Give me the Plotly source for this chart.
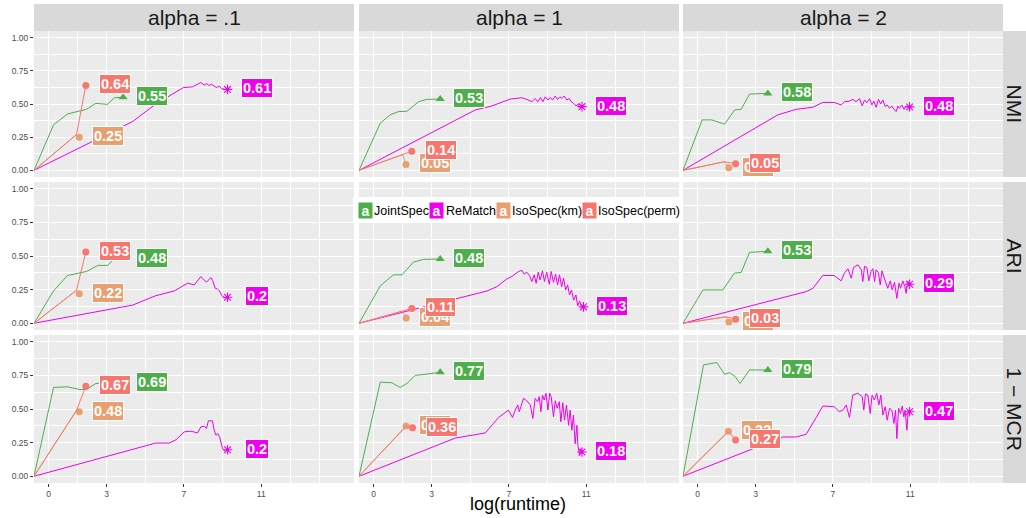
import plotly.graph_objects as go

W, H = 1026, 518

# ---------------- data ----------------
methods = ["JointSpec", "ReMatch", "IsoSpec(km)", "IsoSpec(perm)"]
colors = ["#4DAF4A", "#EE00EE", "#E8A070", "#F8766D"]
col_titles = ["alpha = .1", "alpha = 1", "alpha = 2"]
row_titles = ["NMI", "ARI", "1 \u2212 MCR"]
x_title = "log(runtime)"
x_tick_vals = [0, 3, 7, 11]
x_tick_text = ["0", "3", "7", "11"]
x_minor_vals = [1.5, 5, 9, 12.5, 14]
y_tick_vals = [0, 0.25, 0.5, 0.75, 1.0]
y_tick_text = ["0.00", "0.25", "0.50", "0.75", "1.00"]
y_minor_vals = [0.125, 0.375, 0.625, 0.875]

# --- NMI, alpha = .1
p11_joint_x = [-0.75, 0.26, 0.98, 1.97, 2.45, 3.05, 3.4, 3.86]
p11_joint_y = [0, 0.343, 0.425, 0.46, 0.505, 0.497, 0.547, 0.55]
p11_remat_x = [-0.75, 4.35, 5.55, 6.98, 7.45, 7.88, 8.05, 8.18, 8.31, 8.43, 8.57, 8.69, 8.83, 8.95, 9.09, 9.26]
p11_remat_y = [0, 0.368, 0.50, 0.624, 0.629, 0.662, 0.642, 0.654, 0.639, 0.649, 0.634, 0.624, 0.634, 0.617, 0.61, 0.61]
p11_km_x = [-0.75, 1.45, 1.59]
p11_km_y = [0, 0.27, 0.25]
p11_perm_x = [-0.75, 1.45, 1.93]
p11_perm_y = [0, 0.27, 0.64]
p11_labels = ["0.55", "0.61", "0.25", "0.64"]

# --- ARI, alpha = .1
p21_joint_x = [-0.75, 0.26, 0.98, 1.97, 2.55, 3.05, 3.4, 3.86]
p21_joint_y = [0, 0.24, 0.355, 0.385, 0.43, 0.43, 0.478, 0.48]
p21_remat_x = [-0.75, 4.35, 5.55, 6.5, 7.2, 7.54, 7.88, 8.05, 8.17, 8.4, 8.48, 8.62, 8.74, 8.83, 8.97, 9.09, 9.26]
p21_remat_y = [0, 0.135, 0.205, 0.24, 0.298, 0.285, 0.347, 0.322, 0.305, 0.34, 0.32, 0.26, 0.255, 0.242, 0.205, 0.19, 0.193]
p21_km_x = [-0.75, 1.45, 1.59]
p21_km_y = [0, 0.245, 0.22]
p21_perm_x = [-0.75, 1.45, 1.93]
p21_perm_y = [0, 0.245, 0.53]
p21_labels = ["0.48", "0.2", "0.22", "0.53"]

# --- 1 - MCR, alpha = .1
p31_joint_x = [-0.75, 0.26, 0.98, 1.6, 1.97, 2.45, 3.86]
p31_joint_y = [0, 0.66, 0.665, 0.645, 0.645, 0.69, 0.69]
p31_remat_x = [-0.75, 5.55, 6.25, 6.6, 7.02, 7.36, 7.71, 7.88, 8.05, 8.17, 8.27, 8.48, 8.57, 8.66, 8.76, 8.86, 9.0, 9.14, 9.26]
p31_remat_y = [0, 0.247, 0.247, 0.272, 0.33, 0.335, 0.322, 0.367, 0.372, 0.355, 0.412, 0.412, 0.342, 0.305, 0.317, 0.287, 0.205, 0.187, 0.197]
p31_km_x = [-0.75, 1.45, 1.59]
p31_km_y = [0, 0.49, 0.48]
p31_perm_x = [-0.75, 1.45, 1.93]
p31_perm_y = [0, 0.49, 0.67]
p31_labels = ["0.69", "0.2", "0.48", "0.67"]

# --- NMI, alpha = 1
p12_joint_x = [-0.75, 0.35, 0.86, 1.3, 1.73, 2.33, 2.76, 3.45]
p12_joint_y = [0, 0.356, 0.418, 0.443, 0.445, 0.517, 0.535, 0.537]
p12_remat_x = [-0.75, 5.26, 6.12, 7.07, 7.67, 7.93, 8.19, 8.36, 8.5, 8.64, 8.76, 8.88, 9.02, 9.14, 9.26, 9.4, 9.52,
               9.64, 9.74, 9.86, 10.0, 10.12, 10.23, 10.35, 10.47, 10.57, 10.68, 10.78]
p12_remat_y = [0, 0.455, 0.485, 0.537, 0.547, 0.535, 0.517, 0.542, 0.517, 0.549, 0.517, 0.554, 0.53, 0.549, 0.53, 0.56, 0.534,
               0.554, 0.542, 0.56, 0.53, 0.542, 0.517, 0.505, 0.485, 0.5, 0.475, 0.48]
p12_km_x = [-0.75, 1.5, 1.68]
p12_km_y = [0, 0.12, 0.045]
p12_perm_x = [-0.75, 1.5, 1.98]
p12_perm_y = [0, 0.12, 0.144]
p12_labels = ["0.53", "0.48", "0.05", "0.14"]

# --- ARI, alpha = 1
p22_joint_x = [-0.75, 0.35, 1.03, 1.47, 2.07, 2.59, 3.45]
p22_joint_y = [0, 0.278, 0.36, 0.36, 0.455, 0.475, 0.478]
p22_remat_x = [-0.75, 5.87, 6.38, 6.9, 7.16, 7.33, 7.5, 7.68, 7.79, 7.93, 8.07, 8.19, 8.31, 8.41, 8.52, 8.62, 8.74, 8.84,
               8.96, 9.09, 9.19, 9.31, 9.42, 9.52, 9.62, 9.73, 9.83, 9.94, 10.04, 10.14, 10.24, 10.35, 10.47, 10.56,
               10.66, 10.76, 10.86]
p22_remat_y = [0, 0.24, 0.272, 0.33, 0.348, 0.365, 0.385, 0.393, 0.365, 0.38, 0.355, 0.31, 0.36, 0.297, 0.38, 0.322, 0.39,
               0.31, 0.38, 0.29, 0.385, 0.305, 0.365, 0.285, 0.36, 0.272, 0.335, 0.247, 0.285, 0.21, 0.247, 0.172, 0.21,
               0.13, 0.165, 0.122, 0.122]
p22_km_x = [-0.75, 1.5, 1.69]
p22_km_y = [0, 0.09, 0.04]
p22_perm_x = [-0.75, 1.5, 1.98]
p22_perm_y = [0, 0.09, 0.11]
p22_labels = ["0.48", "0.13", "0.04", "0.11"]

# --- 1 - MCR, alpha = 1
p32_joint_x = [-0.75, 0.35, 0.95, 1.38, 1.73, 2.16, 2.68, 3.45]
p32_joint_y = [0, 0.70, 0.695, 0.66, 0.69, 0.75, 0.758, 0.773]
p32_remat_x = [-0.75, 4.23, 5.78, 6.47, 6.98, 7.19, 7.33, 7.46, 7.54, 7.76, 7.93, 8.11, 8.24, 8.36, 8.49, 8.57, 8.66,
               8.74, 8.83, 8.92, 9.02, 9.11, 9.19, 9.31, 9.4, 9.5, 9.61, 9.69, 9.79, 9.88, 9.98, 10.09, 10.17, 10.26,
               10.34, 10.43, 10.52, 10.57, 10.66, 10.73, 10.78]
p32_remat_y = [0, 0.284, 0.322, 0.437, 0.492, 0.437, 0.492, 0.53, 0.48, 0.579, 0.561, 0.53, 0.43, 0.579, 0.554, 0.592,
               0.48, 0.604, 0.567, 0.617, 0.492, 0.617, 0.592, 0.442, 0.561, 0.505, 0.554, 0.404, 0.547, 0.417, 0.53,
               0.379, 0.492, 0.342, 0.455, 0.242, 0.379, 0.23, 0.155, 0.205, 0.18]
p32_km_x = [-0.75, 1.68]
p32_km_y = [0, 0.374]
p32_perm_x = [-0.75, 1.68, 2.02]
p32_perm_y = [0, 0.37, 0.36]
p32_labels = ["0.77", "0.18", "0.37", "0.36"]

# --- NMI, alpha = 2
p13_joint_x = [-0.75, 0.24, 0.74, 1.4, 1.92, 2.26, 2.69, 3.64]
p13_joint_y = [0, 0.38, 0.38, 0.348, 0.455, 0.46, 0.575, 0.58]
p13_remat_x = [-0.75, 4.15, 5.1, 5.96, 6.48, 7.07, 7.43, 7.6, 7.86, 8.03, 8.2, 8.38, 8.52, 8.64, 8.76, 8.9, 9.02, 9.12,
               9.24, 9.36, 9.47, 9.59, 9.71, 9.81, 9.93, 10.05, 10.16, 10.28, 10.36, 10.45, 10.57, 10.68, 10.79, 10.97]
p13_remat_y = [0, 0.418, 0.46, 0.475, 0.512, 0.512, 0.493, 0.517, 0.522, 0.535, 0.517, 0.54, 0.485, 0.53, 0.51, 0.54,
               0.493, 0.522, 0.475, 0.535, 0.5, 0.53, 0.48, 0.493, 0.468, 0.485, 0.46, 0.443, 0.485, 0.468, 0.493, 0.46,
               0.485, 0.478]
p13_km_x = [-0.75, 1.4, 1.62]
p13_km_y = [0, 0.065, 0.02]
p13_perm_x = [-0.75, 1.4, 1.97]
p13_perm_y = [0, 0.065, 0.05]
p13_labels = ["0.58", "0.48", "0.02", "0.05"]

# --- ARI, alpha = 2
p23_joint_x = [-0.75, 0.28, 1.31, 1.91, 2.26, 2.69, 3.64]
p23_joint_y = [0, 0.248, 0.248, 0.373, 0.378, 0.527, 0.535]
p23_remat_x = [-0.75, 5.62, 5.97, 6.48, 7.07, 7.43, 7.6, 7.78, 7.95, 8.07, 8.3, 8.47, 8.55, 8.64, 8.76, 8.86, 8.97, 9.07,
               9.16, 9.24, 9.36, 9.45, 9.54, 9.64, 9.72, 9.84, 9.97, 10.07, 10.19, 10.31, 10.42, 10.5, 10.62, 10.72,
               10.79, 10.86, 10.97]
p23_remat_y = [0, 0.235, 0.26, 0.355, 0.355, 0.315, 0.373, 0.405, 0.335, 0.415, 0.435, 0.398, 0.31, 0.423, 0.415, 0.315,
               0.385, 0.405, 0.31, 0.398, 0.373, 0.285, 0.39, 0.335, 0.31, 0.26, 0.315, 0.248, 0.305, 0.185, 0.298, 0.26,
               0.315, 0.272, 0.222, 0.315, 0.29]
p23_km_x = [-0.75, 1.48, 1.62]
p23_km_y = [0, 0.048, 0.01]
p23_perm_x = [-0.75, 1.48, 1.97]
p23_perm_y = [0, 0.048, 0.03]
p23_labels = ["0.53", "0.29", "0.01", "0.03"]

# --- 1 - MCR, alpha = 2
p33_joint_x = [-0.75, 0.31, 1.0, 1.4, 1.66, 1.95, 2.2, 2.69, 3.64]
p33_joint_y = [0, 0.828, 0.845, 0.758, 0.77, 0.74, 0.69, 0.79, 0.79]
p33_remat_x = [-0.75, 4.41, 5.1, 5.62, 6.14, 6.48, 7.07, 7.34, 7.52, 7.69, 7.86, 8.03, 8.29, 8.52, 8.6, 8.69, 8.81, 8.93,
               9.03, 9.15, 9.27, 9.38, 9.48, 9.59, 9.71, 9.81, 9.93, 10.05, 10.16, 10.24, 10.31, 10.4, 10.5, 10.59,
               10.67, 10.74, 10.83, 10.9, 10.97]
p33_remat_y = [0, 0.292, 0.292, 0.312, 0.437, 0.522, 0.517, 0.48, 0.492, 0.53, 0.437, 0.604, 0.617, 0.592, 0.492, 0.612,
               0.604, 0.467, 0.604, 0.567, 0.617, 0.53, 0.604, 0.455, 0.517, 0.417, 0.505, 0.492, 0.392, 0.492, 0.28,
               0.505, 0.467, 0.522, 0.442, 0.492, 0.342, 0.492, 0.48]
p33_km_x = [-0.75, 1.6]
p33_km_y = [0, 0.334]
p33_perm_x = [-0.75, 1.6, 1.97]
p33_perm_y = [0, 0.334, 0.27]
p33_labels = ["0.79", "0.47", "0.33", "0.27"]

label_nudge_x = 1.5

panels = {
    (0, 0): ([p11_joint_x, p11_remat_x, p11_km_x, p11_perm_x], [p11_joint_y, p11_remat_y, p11_km_y, p11_perm_y], p11_labels),
    (1, 0): ([p21_joint_x, p21_remat_x, p21_km_x, p21_perm_x], [p21_joint_y, p21_remat_y, p21_km_y, p21_perm_y], p21_labels),
    (2, 0): ([p31_joint_x, p31_remat_x, p31_km_x, p31_perm_x], [p31_joint_y, p31_remat_y, p31_km_y, p31_perm_y], p31_labels),
    (0, 1): ([p12_joint_x, p12_remat_x, p12_km_x, p12_perm_x], [p12_joint_y, p12_remat_y, p12_km_y, p12_perm_y], p12_labels),
    (1, 1): ([p22_joint_x, p22_remat_x, p22_km_x, p22_perm_x], [p22_joint_y, p22_remat_y, p22_km_y, p22_perm_y], p22_labels),
    (2, 1): ([p32_joint_x, p32_remat_x, p32_km_x, p32_perm_x], [p32_joint_y, p32_remat_y, p32_km_y, p32_perm_y], p32_labels),
    (0, 2): ([p13_joint_x, p13_remat_x, p13_km_x, p13_perm_x], [p13_joint_y, p13_remat_y, p13_km_y, p13_perm_y], p13_labels),
    (1, 2): ([p23_joint_x, p23_remat_x, p23_km_x, p23_perm_x], [p23_joint_y, p23_remat_y, p23_km_y, p23_perm_y], p23_labels),
    (2, 2): ([p33_joint_x, p33_remat_x, p33_km_x, p33_perm_x], [p33_joint_y, p33_remat_y, p33_km_y, p33_perm_y], p33_labels),
}

# ---------------- layout geometry (pixels) ----------------
col_px = [(34, 354), (359, 679), (683, 1003)]
row_px = [(31, 177), (182, 330), (335, 483)]
X_RANGE = [-0.75, 15.8]
Y_RANGE = [-0.05, 1.05]
FONT = "Liberation Sans, Arial, sans-serif"


def px_x(p):
    return p / W


def px_y(p):
    return 1 - p / H


marker_symbols = ["triangle-up", "asterisk-open", "circle", "circle"]
marker_sizes = [8, 8, 7, 7]

fig = go.Figure()
annotations = []
shapes = []
layout_axes = {}

for (r, c), (xs, ys, labels) in panels.items():
    idx = r * 3 + c + 1
    sfx = "" if idx == 1 else str(idx)
    xa, ya = "x" + sfx, "y" + sfx
    layout_axes["xaxis" + sfx] = dict(
        domain=[px_x(col_px[c][0]), px_x(col_px[c][1])], anchor=ya, range=X_RANGE,
        tickvals=x_tick_vals, ticktext=x_tick_text, showticklabels=(r == 2),
        ticks="outside" if r == 2 else "", ticklen=3, tickwidth=1, tickcolor="#333333",
        tickfont=dict(size=8.5, color="#4D4D4D", family=FONT),
        showgrid=True, gridcolor="white", gridwidth=1.1, zeroline=False, showline=False,
        minor=dict(tickvals=x_minor_vals, showgrid=True, gridcolor="white", gridwidth=0.5, ticks=""),
    )
    layout_axes["yaxis" + sfx] = dict(
        domain=[px_y(row_px[r][1]), px_y(row_px[r][0])], anchor=xa, range=Y_RANGE,
        tickvals=y_tick_vals, ticktext=y_tick_text, showticklabels=(c == 0),
        ticks="outside" if c == 0 else "", ticklen=3, tickwidth=1, tickcolor="#333333",
        tickfont=dict(size=8.5, color="#4D4D4D", family=FONT),
        showgrid=True, gridcolor="white", gridwidth=1.1, zeroline=False, showline=False,
        minor=dict(tickvals=y_minor_vals, showgrid=True, gridcolor="white", gridwidth=0.5, ticks=""),
    )
    for m in range(4):
        fig.add_trace(go.Scatter(x=xs[m], y=ys[m], mode="lines", xaxis=xa, yaxis=ya,
                                 line=dict(color=colors[m], width=1), showlegend=False, hoverinfo="skip"))
        mk = dict(color=colors[m], size=marker_sizes[m], symbol=marker_symbols[m])
        if m == 1:
            mk["line"] = dict(color=colors[m], width=1.1)
        else:
            mk["line"] = dict(width=0)
        fig.add_trace(go.Scatter(x=[xs[m][-1]], y=[ys[m][-1]], mode="markers", xaxis=xa, yaxis=ya,
                                 marker=mk, showlegend=False, hoverinfo="skip"))
    for m in [0, 1, 2, 3]:
        annotations.append(dict(
            x=xs[m][-1] + label_nudge_x, y=ys[m][-1], xref=xa, yref=ya, showarrow=False,
            text="<b>" + labels[m] + "</b>", font=dict(size=14.5, color="white", family=FONT),
            bgcolor=colors[m], bordercolor="white", borderwidth=1, borderpad=1,
            xanchor="center", yanchor="middle", yshift=1))

# strips (top)
for c in range(3):
    shapes.append(dict(type="rect", xref="paper", yref="paper", x0=px_x(col_px[c][0]), x1=px_x(col_px[c][1]),
                       y0=px_y(31), y1=px_y(4), fillcolor="#D9D9D9", line=dict(width=0), layer="below"))
    annotations.append(dict(x=px_x((col_px[c][0] + col_px[c][1]) / 2), y=px_y(17.5), xref="paper", yref="paper",
                            text=col_titles[c], showarrow=False, font=dict(size=21, color="#1A1A1A", family=FONT),
                            xanchor="center", yanchor="middle"))
# strips (right)
for r in range(3):
    shapes.append(dict(type="rect", xref="paper", yref="paper", x0=px_x(1003), x1=px_x(1026),
                       y0=px_y(row_px[r][1]), y1=px_y(row_px[r][0]), fillcolor="#D9D9D9", line=dict(width=0),
                       layer="below"))
    annotations.append(dict(x=px_x(1014.5), y=px_y((row_px[r][0] + row_px[r][1]) / 2), xref="paper", yref="paper",
                            text=row_titles[r], showarrow=False, textangle=90,
                            font=dict(size=21, color="#1A1A1A", family=FONT), xanchor="center", yanchor="middle"))

# x axis title
annotations.append(dict(x=px_x(518), y=px_y(504), xref="paper", yref="paper", text=x_title, showarrow=False,
                        font=dict(size=18, color="black", family=FONT), xanchor="center", yanchor="middle"))

# legend (inside middle panel)
shapes.append(dict(type="rect", xref="paper", yref="paper", x0=px_x(353), x1=px_x(682), y0=px_y(222), y1=px_y(197),
                   fillcolor="white", line=dict(width=0), layer="above"))
legend_key_px = [357.5, 429, 495.5, 581.5]
for m in range(4):
    kx = legend_key_px[m]
    annotations.append(dict(x=px_x(kx), y=px_y(210.5), xref="paper", yref="paper", text="<b>a</b>", showarrow=False,
                            font=dict(size=14, color="white", family=FONT), bgcolor=colors[m], width=13, height=15,
                            borderpad=0, xanchor="left", yanchor="middle"))
    annotations.append(dict(x=px_x(kx + 14.5), y=px_y(210.5), xref="paper", yref="paper", text=methods[m],
                            showarrow=False, font=dict(size=12.5, color="black", family=FONT),
                            xanchor="left", yanchor="middle"))

fig.update_layout(
    width=W, height=H, margin=dict(l=0, r=0, t=0, b=0),
    paper_bgcolor="white", plot_bgcolor="#EBEBEB",
    showlegend=False, annotations=annotations, shapes=shapes,
    **layout_axes,
)

fig.write_html("out.html")
